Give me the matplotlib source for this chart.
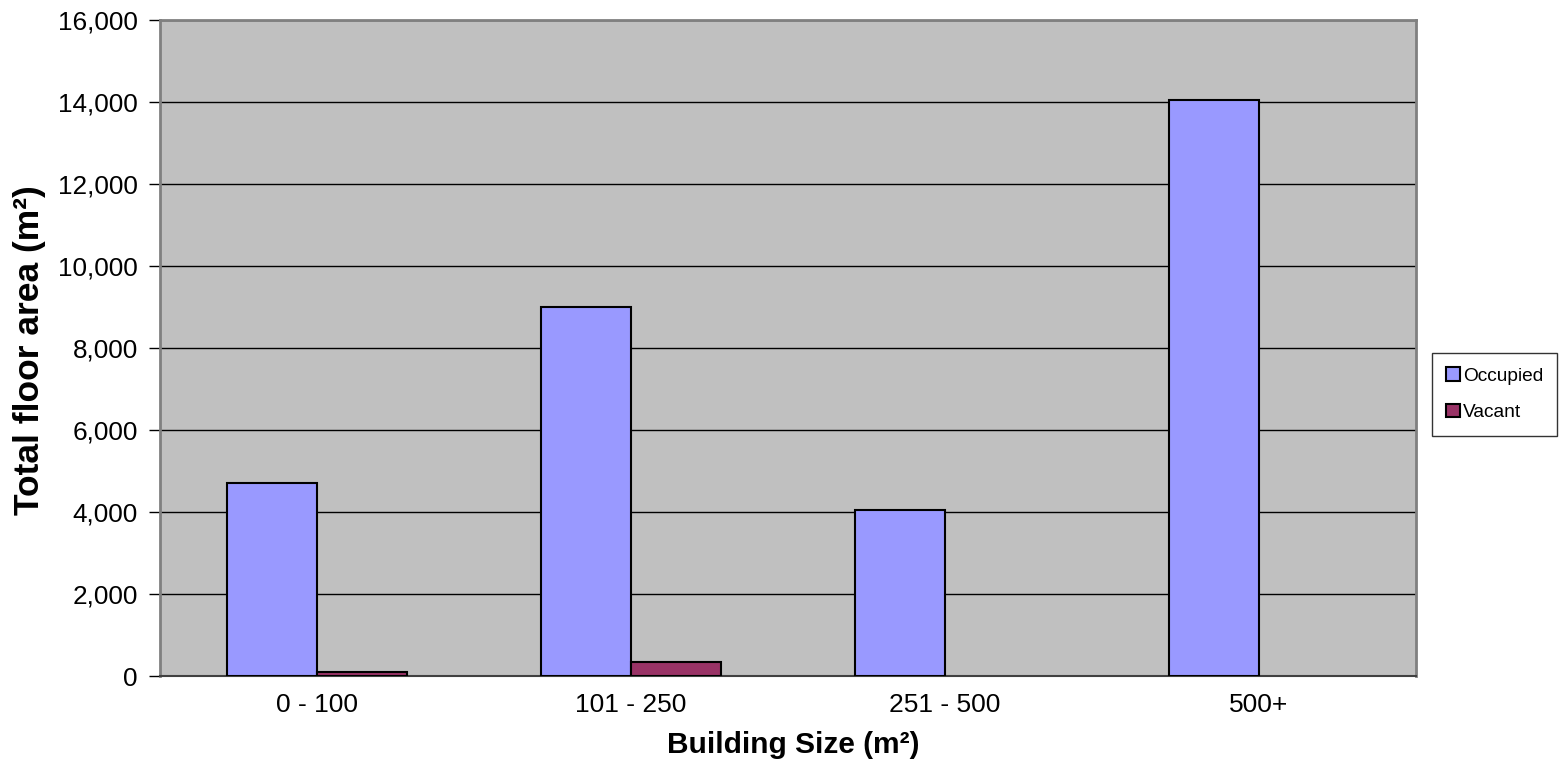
import matplotlib.pyplot as plt
import numpy as np

plt.rcParams['font.family'] = ['Liberation Sans', 'DejaVu Sans']

# ------------------ DATA -----------------------------------------
sizes = ['0 - 100', '101 - 250', '251 - 500', '500+']
occupied = [4700, 8990, 4040, 14050]
vacant = [100, 350, 0, 0]
# -----------------------------------------------------------------

fig = plt.figure(figsize=(15.64, 7.66), dpi=100)
ax = fig.add_axes([160/1564, 90/766, 1256/1564, 656/766])
ax.set_facecolor('#C0C0C0')

x = np.arange(len(sizes))
w = 1 / 3.5
# no outline for empty bars, Excel draws nothing there
occ_edges = ['black' if v > 0 else 'none' for v in occupied]
vac_edges = ['black' if v > 0 else 'none' for v in vacant]
ax.bar(x - w/2, occupied, w, color='#9999FF', edgecolor=occ_edges, linewidth=1.5, label='Occupied', zorder=3)
ax.bar(x + w/2, vacant, w, color='#993366', edgecolor=vac_edges, linewidth=1.5, label='Vacant', zorder=3)

ax.set_xlim(-0.5, len(sizes) - 0.5)
ax.set_ylim(0, 16000)
ax.set_yticks(range(0, 16001, 2000))
ax.set_yticklabels([f'{v:,}' for v in range(0, 16001, 2000)])
ax.set_xticks(x)
ax.set_xticklabels(sizes)
ax.yaxis.grid(True, color='black', linewidth=1)
ax.set_axisbelow(True)

ax.tick_params(axis='y', length=8, width=1, labelsize=18.8, pad=8, color='black')
ax.tick_params(axis='x', length=0, labelsize=19, pad=12)

for s in ['top', 'right', 'left']:
    ax.spines[s].set_color('#808080')
    ax.spines[s].set_linewidth(2)
ax.spines['bottom'].set_color('#404040')
ax.spines['bottom'].set_linewidth(1.5)

ax.set_xlabel('Building Size (m²)', fontsize=21.5, fontweight='bold', va='center')
ax.set_ylabel('Total floor area (m²)', fontsize=25.5, fontweight='bold', va='center')
ax.xaxis.set_label_coords((793 - 160) / 1256, -(745 - 676) / 656)
ax.yaxis.set_label_coords(-(160 - 30) / 1256, (676 - 350) / 656)

leg = fig.legend(loc='upper left', bbox_to_anchor=(1432/1564, 1 - 353/766),
                 fontsize=13.8, frameon=True, fancybox=False, edgecolor='black',
                 handlelength=0.7, handleheight=0.7, handletextpad=0.15,
                 labelspacing=1.0, borderpad=0.75, borderaxespad=0)
leg.get_frame().set_linewidth(1)
for h in leg.legend_handles:
    h.set_edgecolor('black')
    h.set_linewidth(1.5)

fig.savefig('out.png', dpi=100)
